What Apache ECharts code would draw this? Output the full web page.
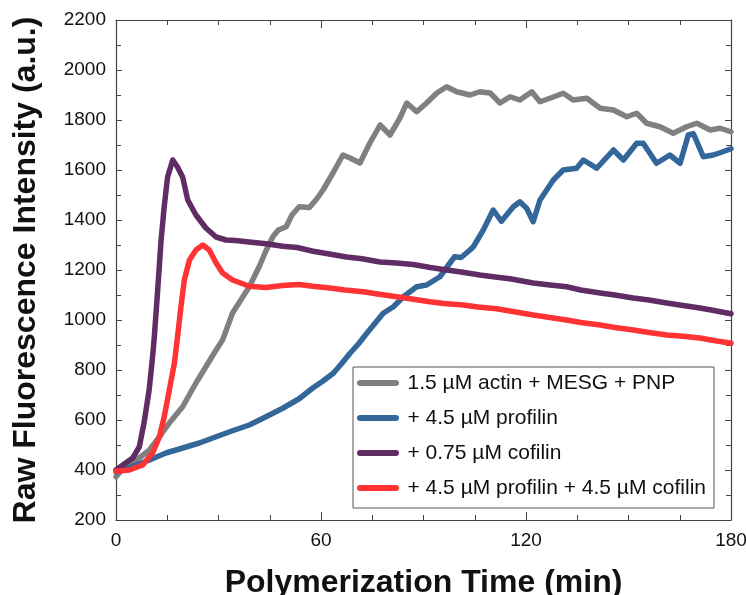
<!DOCTYPE html>
<html>
<head>
<meta charset="utf-8">
<script src="https://cdn.jsdelivr.net/npm/echarts@6/dist/echarts.min.js"></script>
<style>html,body{margin:0;padding:0;background:#fff}#c{width:746px;height:595px}</style>
</head>
<body>
<div id="c"></div>
<script>
const seriesNames = [
  '1.5 µM actin + MESG + PNP',
  '+ 4.5 µM profilin',
  '+ 0.75 µM cofilin',
  '+ 4.5 µM profilin + 4.5 µM cofilin'
];
const xTicks = [0, 60, 120, 180];
const yTicks = [200, 400, 600, 800, 1000, 1200, 1400, 1600, 1800, 2000, 2200];

const actinData = [[0,373],[1,390],[2.9,413],[4.9,430],[6.8,448],[9.8,480],[12.7,533],[15.6,588],[19.5,653],[23.4,748],[26.3,813],[29.3,880],[31.2,920],[34.1,1028],[37,1090],[39,1133],[41.9,1213],[44,1280],[45.9,1333],[47.5,1360],[49.8,1373],[51.5,1420],[53.6,1453],[56.6,1450],[58.5,1480],[60.6,1520],[63.5,1588],[66.4,1660],[68.5,1648],[71.4,1628],[74.3,1708],[77.3,1780],[80.2,1740],[83.1,1808],[85.1,1868],[88,1833],[90.9,1868],[93.9,1908],[96.8,1933],[99.7,1913],[103.6,1900],[106.5,1913],[109.5,1908],[112.4,1868],[115.3,1893],[118.2,1880],[121.7,1913],[124.1,1873],[127,1887],[130.9,1907],[133.8,1880],[137.8,1887],[141.7,1847],[145.6,1840],[149.5,1813],[152.4,1827],[155.3,1787],[159.2,1773],[163.1,1747],[167,1773],[170,1787],[173.9,1760],[176.8,1767],[180,1753]];

const profilinData = [[0,393],[3,405],[5.9,420],[9.8,440],[14.6,468],[19.5,488],[24.4,508],[29.3,533],[34.1,557],[39,580],[43.9,613],[48.8,647],[53.6,685],[57.6,728],[60.5,755],[63.6,787],[66,825],[68.5,867],[71,905],[73.4,947],[76,990],[78.2,1027],[81.2,1053],[84.1,1093],[88,1133],[90.9,1140],[94.8,1173],[99.1,1253],[101,1250],[103.6,1280],[104.6,1293],[107.5,1360],[110.4,1440],[112.8,1395],[116.3,1453],[118.2,1473],[120.2,1447],[122.1,1393],[124.1,1480],[128,1560],[130.9,1600],[134.8,1607],[136.8,1640],[140.7,1607],[145.6,1680],[148.5,1640],[152.4,1707],[154.3,1707],[158.2,1627],[162.1,1660],[165.1,1627],[167.5,1740],[169,1745],[171.9,1653],[174.8,1660],[177,1670],[180,1685]];

const cofilinData = [[0,400],[2,420],[4.9,448],[6.8,492],[8.2,588],[9.7,720],[10.7,852],[11.2,930],[12.2,1120],[13.2,1320],[14.1,1452],[15.1,1572],[16.6,1640],[18,1612],[19.5,1572],[21,1480],[23.4,1420],[26.3,1368],[29.3,1332],[32.2,1320],[35,1318],[38.9,1312],[44,1305],[48.8,1295],[53,1290],[57.7,1275],[62,1265],[67.5,1252],[72,1245],[77.3,1232],[82,1228],[87,1222],[92,1210],[96.8,1200],[101,1192],[106.5,1180],[111,1172],[115.3,1165],[122.1,1148],[127,1140],[131.9,1133],[136,1120],[141.7,1108],[146,1100],[151.4,1088],[156,1080],[161.2,1068],[166,1058],[170.9,1048],[175,1038],[180,1025]];

const profilinCofilinData = [[0,395],[3.9,400],[7.8,420],[10.7,468],[12.7,532],[14.1,612],[15.6,720],[17.1,828],[18,932],[19,1052],[20,1160],[21.5,1240],[23.4,1280],[25.4,1300],[27.3,1280],[29.3,1228],[31.2,1188],[34.1,1160],[39,1135],[43.9,1130],[48.8,1138],[53.6,1142],[57.6,1135],[62.6,1128],[67,1120],[72.4,1113],[77,1103],[82.2,1093],[87,1083],[91.9,1073],[96,1066],[101.6,1060],[106,1052],[111.4,1045],[117,1032],[122.1,1020],[127,1010],[131.9,1000],[136,990],[141.7,980],[146,970],[151.4,960],[156,950],[161.2,940],[166,935],[170.9,928],[175,918],[180,907]];

const colors = ['#808080', '#336699', '#5f2d63', '#ff3333'];
const allData = [actinData, profilinData, cofilinData, profilinCofilinData];

const font = '"Liberation Sans", Arial, sans-serif';
const axisColor = '#444';
const legendIcon = 'path://M3,0 L39,0 A3,3 0 0 1 39,6 L3,6 A3,3 0 0 1 3,0 Z';

function xAxisCfg(pos, showLabels, name) {
  return {
    type: 'value', position: pos, min: xTicks[0], max: xTicks[xTicks.length - 1], interval: xTicks[1] - xTicks[0],
    name: name || '', nameLocation: 'middle', nameGap: 47,
    nameTextStyle: {fontFamily: font, fontWeight: 'bold', fontSize: 32, color: '#111'},
    axisLine: {show: true, onZero: false, lineStyle: {color: axisColor, width: 1.2}},
    axisTick: {show: true, inside: true, length: 8, lineStyle: {color: axisColor}},
    minorTick: {show: true, splitNumber: 4, length: 5, lineStyle: {color: axisColor}},
    axisLabel: {show: showLabels, fontFamily: font, fontSize: 19, color: '#111', margin: 11,
      formatter: v => String(v)},
    splitLine: {show: false}, minorSplitLine: {show: false}
  };
}
function yAxisCfg(pos, showLabels, name) {
  return {
    type: 'value', position: pos, min: yTicks[0], max: yTicks[yTicks.length - 1], interval: yTicks[1] - yTicks[0],
    name: name || '', nameLocation: 'middle', nameGap: 74,
    nameTextStyle: {fontFamily: font, fontWeight: 'bold', fontSize: 32, color: '#111'},
    axisLine: {show: true, onZero: false, lineStyle: {color: axisColor, width: 1.2}},
    axisTick: {show: true, inside: true, length: 6, lineStyle: {color: axisColor}},
    minorTick: {show: true, splitNumber: 2, length: 5, lineStyle: {color: axisColor}},
    axisLabel: {show: showLabels, fontFamily: font, fontSize: 19, color: '#111', margin: 10,
      formatter: v => String(v)},
    splitLine: {show: false}, minorSplitLine: {show: false}
  };
}

const chart = echarts.init(document.getElementById('c'), null, {renderer: 'canvas'});
chart.setOption({
  animation: false,
  backgroundColor: '#fff',
  grid: {left: 116, right: 15, top: 20, bottom: 75, containLabel: false, outerBoundsMode: 'none'},
  xAxis: [xAxisCfg('bottom', true, 'Polymerization Time (min)'), xAxisCfg('top', false)],
  yAxis: [yAxisCfg('left', true, 'Raw Fluorescence Intensity (a.u.)'), yAxisCfg('right', false)],
  legend: {
    orient: 'vertical', left: 353, top: 367,
    padding: [5, 8, 9, 4],
    itemWidth: 43, itemHeight: 6, itemGap: 13,
    backgroundColor: '#fff',
    borderColor: '#555', borderWidth: 1,
    textStyle: {fontFamily: font, fontSize: 21, color: '#111', lineHeight: 22, padding: [0, 0, 0, 3]},
    data: seriesNames.map(n => ({name: n, icon: legendIcon})),
    itemStyle: {borderWidth: 0}
  },
  series: allData.map((d, i) => ({
    name: seriesNames[i], type: 'line', data: d,
    xAxisIndex: 0, yAxisIndex: 0,
    showSymbol: false, symbol: 'none', smooth: false,
    lineStyle: {color: colors[i], width: 5.5, join: 'round', cap: 'round'},
    itemStyle: {color: colors[i]},
    z: 2 + i
  }))
});
</script>
</body>
</html>
